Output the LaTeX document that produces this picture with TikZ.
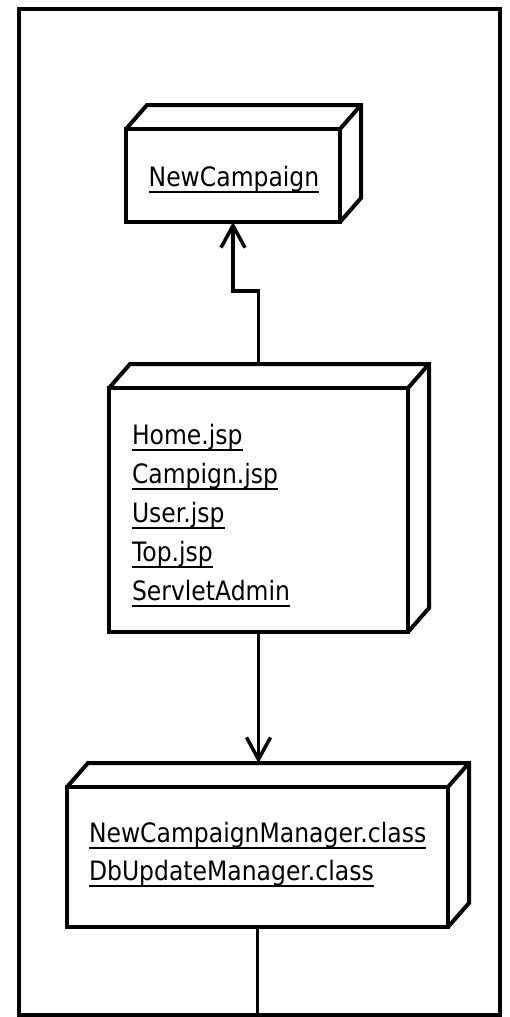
\documentclass[tikz,border=0pt]{standalone}
\usepackage{fontspec}
\setmainfont{DejaVu Sans}[FakeStretch=0.88]
\usetikzlibrary{arrows.meta,calc}
\begin{document}
\begin{tikzpicture}[x=1pt,y=-1pt,
  face/.style={draw, line width=4pt, rectangle, inner sep=0pt, outer sep=0pt, line join=miter},
  depthline/.style={line width=4pt, line join=miter},
  frame/.style={draw, line width=3.5pt},
  conn/.style={line width=3.5pt},
  ul/.style={line width=2pt},
  open arrow/.style={-{Straight Barb[length=22pt,width=24pt,line width=3.5pt]}},
  lbl/.style={inner sep=0pt, outer sep=0pt, font=\fontsize{26.7}{39}\selectfont}]
\useasboundingbox (0,0) rectangle (509,1017);
% outer frame
\draw[frame] (19,9) rectangle (500,1015);
\coordinate (framebottom) at (257.5,1015);
% front faces
\node[face, minimum width=214pt, minimum height=93pt] (nc) at (233,175.5) {};
\node[face, minimum width=299pt, minimum height=244pt] (web) at (258.5,510) {};
\node[face, minimum width=381pt, minimum height=140pt] (mgr) at (257.5,857) {};
% 3D depth
\foreach \n in {nc,web,mgr}{
  \draw[depthline] (\n.north west) -- ++(21,-24) -| ($(\n.south east)+(21,-24)$) -- (\n.south east)
        (\n.north east) -- ++(21,-24);
}
% labels
\node[lbl, anchor=base] (t0) at (234,186) {NewCampaign};
\node[lbl, anchor=base west] (t1) at (132,444) {Home.jsp};
\node[lbl, anchor=base west] (t2) at (132,483) {Campign.jsp};
\node[lbl, anchor=base west] (t3) at (132,522) {User.jsp};
\node[lbl, anchor=base west] (t4) at (132,561) {Top.jsp};
\node[lbl, anchor=base west] (t5) at (132,600) {ServletAdmin};
\node[lbl, anchor=base west] (t6) at (89,842) {NewCampaignManager.class};
\node[lbl, anchor=base west] (t7) at (89,880) {DbUpdateManager.class};
% underlines
\foreach \t in {t0,t1,t2,t3,t4,t5,t6,t7}{
  \draw[ul] ($(\t.base west)+(0,6)$) -- ($(\t.base east)+(0,6)$);
}
% connectors
\coordinate (webtop) at ($(web.north)+(0,-24)$);
\coordinate (mgrtop) at ($(mgr.north)+(0,-24)$);
\draw[conn, open arrow] (webtop) -- ++(0,-73) -| (nc.south);
\draw[conn, open arrow] (web.south) -- (web.south |- mgrtop);
\draw[conn] (mgr.south) -- (framebottom);
\end{tikzpicture}
\end{document}
